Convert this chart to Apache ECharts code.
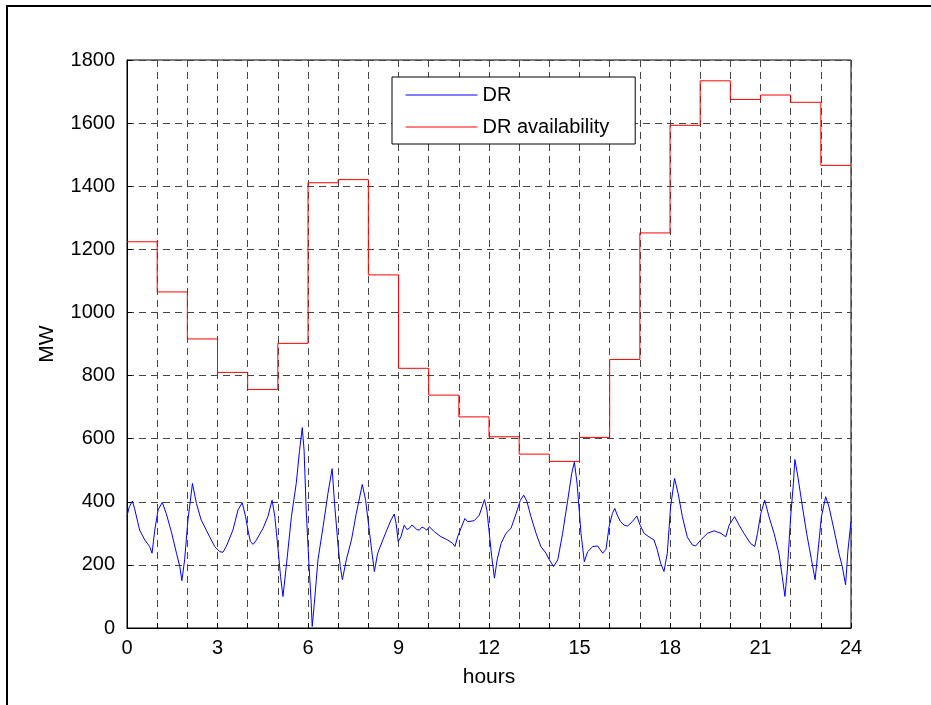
<!DOCTYPE html>
<html>
<head>
<meta charset="utf-8">
<script src="https://cdn.jsdelivr.net/npm/echarts@6/dist/echarts.min.js"></script>
<style>
  html, body { margin: 0; padding: 0; background: #fff; }
  #chart { width: 931px; height: 705px; }
</style>
</head>
<body>
<div id="chart"></div>
<script>
// Hourly DR availability (MW), constant over each hour 0..23
const availHours = [0, 1, 2, 3, 4, 5, 6, 7, 8, 9, 10, 11, 12, 13, 14, 15, 16, 17, 18, 19, 20, 21, 22, 23];
const availMW = [1224, 1065, 916, 810, 756, 902, 1411, 1421, 1119, 823, 738, 669,
                 606, 551, 528, 604, 851, 1252, 1593, 1734, 1675, 1689, 1666, 1466];

// Dispatched DR (MW) sampled along the day
const drHours = [
  0.00, 0.08, 0.18, 0.25, 0.42, 0.59, 0.75, 0.83, 0.92, 1.03, 1.17, 1.30, 1.47, 1.64, 1.75, 1.82, 1.91,
  2.02, 2.17, 2.30, 2.46, 2.63, 2.74, 2.91, 3.07, 3.18, 3.29, 3.51, 3.68, 3.82, 3.93,
  4.01, 4.09, 4.18, 4.29, 4.51, 4.67, 4.81, 4.90, 5.01, 5.09, 5.17, 5.28, 5.45, 5.61, 5.72, 5.81, 5.87, 5.94,
  6.03, 6.10, 6.14, 6.22, 6.33, 6.50, 6.66, 6.80, 6.88, 7.00, 7.07, 7.14, 7.27, 7.44, 7.60, 7.80, 7.91,
  8.03, 8.11, 8.20, 8.31, 8.48, 8.59, 8.75, 8.86, 8.92, 8.99, 9.08, 9.19, 9.28, 9.36, 9.44, 9.52, 9.60, 9.69,
  9.78, 9.86, 9.94, 10.02, 10.19, 10.41, 10.63, 10.80, 10.87, 10.96, 11.07, 11.20, 11.29, 11.51, 11.68, 11.85, 11.93,
  12.01, 12.09, 12.18, 12.27, 12.40, 12.56, 12.73, 12.90, 13.04, 13.15, 13.26, 13.39, 13.56, 13.72, 13.89,
  14.00, 14.14, 14.28, 14.44, 14.61, 14.74, 14.83, 14.92, 15.05, 15.16, 15.27, 15.44, 15.60, 15.77, 15.88, 15.98,
  16.09, 16.17, 16.25, 16.36, 16.48, 16.59, 16.75, 16.90, 17.01, 17.14, 17.30, 17.47, 17.58, 17.69, 17.80, 17.91,
  18.02, 18.15, 18.27, 18.41, 18.57, 18.74, 18.85, 19.02, 19.24, 19.46, 19.69, 19.85, 19.96,
  20.14, 20.29, 20.45, 20.67, 20.81, 20.90, 21.01, 21.14, 21.28, 21.45, 21.61, 21.72, 21.81, 21.89,
  22.00, 22.09, 22.14, 22.24, 22.39, 22.53, 22.69, 22.81, 22.91, 23.02, 23.16, 23.27, 23.44, 23.60, 23.71, 23.82, 23.90, 24.00
];
const drMW = [
  355, 385, 402, 379, 310, 279, 258, 237, 310, 374, 398, 363, 305, 237, 195, 150, 216,
  342, 458, 395, 342, 310, 289, 258, 242, 240, 258, 310, 374, 397, 353,
  310, 274, 265, 279, 316, 353, 405, 353, 247, 163, 100, 195, 353, 458, 563, 635, 563, 374,
  205, 89, 5, 89, 216, 321, 426, 505, 395, 258, 195, 153, 216, 279, 363, 455, 405,
  310, 247, 179, 237, 279, 305, 342, 361, 332, 274, 289, 326, 312, 316, 326, 321, 312, 310,
  320, 316, 310, 321, 305, 289, 279, 268, 258, 289, 316, 347, 337, 340, 358, 407, 374,
  300, 226, 158, 216, 268, 300, 316, 363, 405, 421, 400, 353, 300, 258, 237,
  216, 195, 216, 300, 405, 489, 526, 458, 300, 210, 242, 258, 260, 237, 250, 321,
  363, 379, 358, 337, 326, 323, 337, 355, 326, 300, 289, 279, 247, 205, 179, 237,
  384, 474, 426, 353, 289, 263, 260, 279, 300, 308, 300, 289, 326,
  353, 326, 300, 268, 258, 300, 363, 405, 353, 300, 237, 163, 100, 184,
  353, 458, 534, 479, 384, 300, 216, 153, 247, 353, 416, 384, 310, 237, 195, 137, 247, 337
];

const xTickLabels = ['0', '3', '6', '9', '12', '15', '18', '21', '24'];

// Step line points: each hour's value held until the next hour, closed at 24
const availData = availHours.map((h, i) => [h, availMW[i]]);
availData.push([24, availMW[availMW.length - 1]]);
const drData = drHours.map((h, i) => [h, drMW[i]]);

const FONT = '"Liberation Sans", Arial, Helvetica, sans-serif';
const gridDash = { type: [7, 5], color: '#444', width: 1 };

const chart = echarts.init(document.getElementById('chart'), null, { renderer: 'canvas' });
chart.setOption({
  backgroundColor: '#fff',
  animation: false,
  textStyle: { fontFamily: FONT },
  grid: {
    left: 127, right: 80, top: 60, bottom: 77,
    show: true, borderColor: '#000', borderWidth: 1, backgroundColor: 'transparent'
  },
  legend: {
    orient: 'vertical',
    left: 392, top: 77,
    padding: [8, 26, 7, 13],
    itemWidth: 72, itemHeight: 20, itemGap: 12,
    backgroundColor: '#fff',
    borderColor: '#000', borderWidth: 1,
    itemStyle: { opacity: 0 },
    lineStyle: { width: 1 },
    textStyle: { fontFamily: FONT, fontSize: 20, color: '#000' },
    data: ['DR', 'DR availability']
  },
  xAxis: {
    type: 'value', min: 0, max: 24, interval: 1,
    name: 'hours', nameLocation: 'middle', nameGap: 39,
    nameTextStyle: { fontFamily: FONT, fontSize: 21, color: '#000' },
    axisLine: { show: true, lineStyle: { color: '#000', width: 1 } },
    axisTick: { show: true, inside: true, length: 5, lineStyle: { color: '#000' } },
    axisLabel: {
      fontFamily: FONT, fontSize: 20, color: '#000', margin: 10,
      formatter: v => (xTickLabels.indexOf(String(v)) >= 0 ? String(v) : '')
    },
    splitLine: { show: true, lineStyle: gridDash }
  },
  yAxis: {
    type: 'value', min: 0, max: 1800, interval: 200,
    name: 'MW', nameLocation: 'middle', nameGap: 69, nameRotate: 90,
    nameTextStyle: { fontFamily: FONT, fontSize: 21, color: '#000' },
    axisLine: { show: true, lineStyle: { color: '#000', width: 1 } },
    axisTick: { show: true, inside: true, length: 5, lineStyle: { color: '#000' } },
    axisLabel: { fontFamily: FONT, fontSize: 20, color: '#000', margin: 12, formatter: v => String(v) },
    splitLine: { show: true, lineStyle: gridDash }
  },
  series: [
    {
      name: 'DR', type: 'line', data: drData,
      symbol: 'none', smooth: false,
      lineStyle: { color: '#0000ff', width: 1 },
      itemStyle: { color: '#0000ff' },
      z: 3
    },
    {
      name: 'DR availability', type: 'line', data: availData,
      step: 'end', symbol: 'none',
      lineStyle: { color: '#ff0000', width: 1 },
      itemStyle: { color: '#ff0000' },
      z: 2
    }
  ],
  graphic: [
    // outer figure frame (left and top edges)
    { type: 'line', shape: { x1: 7, y1: 5, x2: 7, y2: 705 }, style: { stroke: '#000', lineWidth: 2 } },
    { type: 'line', shape: { x1: 6, y1: 6, x2: 931, y2: 6 }, style: { stroke: '#000', lineWidth: 2 } }
  ]
});
</script>
</body>
</html>
